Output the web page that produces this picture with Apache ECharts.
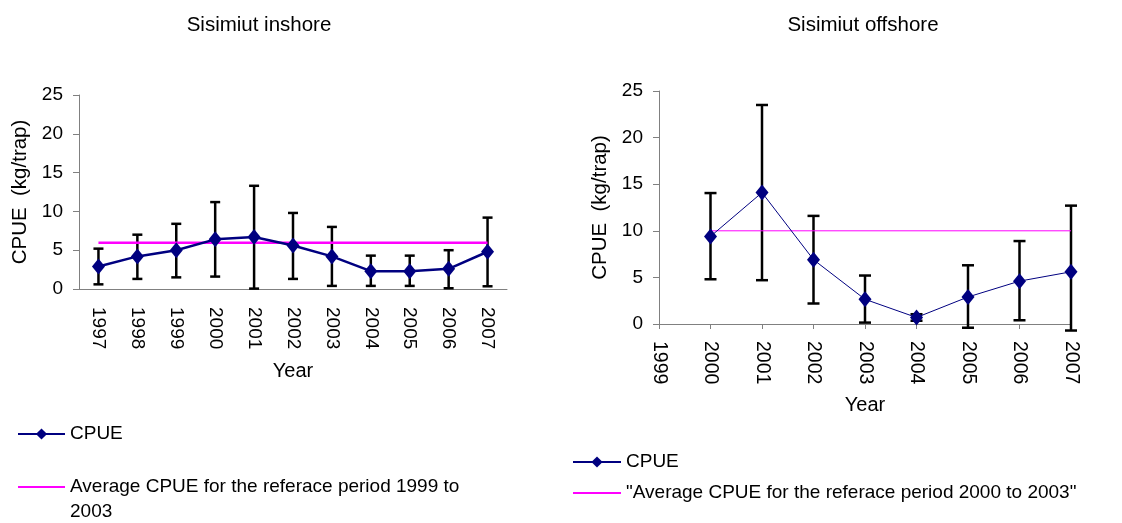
<!DOCTYPE html>
<html>
<head>
<meta charset="utf-8">
<script src="https://cdn.jsdelivr.net/npm/echarts@6/dist/echarts.min.js"></script>
<style>
  html, body { margin: 0; padding: 0; background: #fff; }
  #wrap { width: 1122px; height: 523px; position: relative; }
  .pane { position: absolute; top: 0; width: 561px; height: 523px; }
</style>
</head>
<body>
<div id="wrap">
  <div id="inshore_chart" class="pane" style="left:0"></div>
  <div id="offshore_chart" class="pane" style="left:561px"></div>
</div>
<script>
// Sisimiut inshore
var inYears = ['1997', '1998', '1999', '2000', '2001', '2002', '2003', '2004', '2005', '2006', '2007'];
var inCpue = [2.9, 4.2, 5.0, 6.4, 6.7, 5.6, 4.2, 2.3, 2.3, 2.6, 4.8];
var inLow  = [0.6, 1.3, 1.5, 1.6, 0.05, 1.3, 0.4, 0.4, 0.4, 0.1, 0.35];
var inHigh = [5.2, 7.0, 8.4, 11.2, 13.3, 9.8, 8.0, 4.3, 4.3, 5.0, 9.2];
var inAvg = 5.95;

// Sisimiut offshore
var offYears = [2000, 2001, 2002, 2003, 2004, 2005, 2006, 2007];
var offCpue = [9.4, 14.1, 6.9, 2.65, 0.7, 2.9, 4.6, 5.6];
var offLow  = [4.8, 4.7, 2.2, 0.15, 0.35, -0.4, 0.4, -0.7];
var offHigh = [14.05, 23.5, 11.6, 5.2, 1.05, 6.3, 8.9, 12.7];
var offAvg = 10;

var yTicks = { min: 0, max: 25, interval: 5 };

var FONT = 'Liberation Sans, Arial, sans-serif';
var NAVY = '#000080';
var MAGENTA = '#ff00ff';

function errorBars(xs, lows, highs, capHalf, width) {
    return {
        type: 'custom',
        silent: true,
        clip: false,
        z: 1,
        data: xs.map(function (x, i) { return [x, lows[i], highs[i]]; }),
        encode: { x: 0, y: [1, 2] },
        renderItem: function (params, api) {
            var lo = api.coord([api.value(0), api.value(1)]);
            var hi = api.coord([api.value(0), api.value(2)]);
            var st = { stroke: '#000', lineWidth: width };
            return {
                type: 'group',
                children: [
                    { type: 'line', shape: { x1: hi[0], y1: hi[1], x2: lo[0], y2: lo[1] }, style: st },
                    { type: 'line', shape: { x1: hi[0] - capHalf, y1: hi[1], x2: hi[0] + capHalf, y2: hi[1] }, style: st },
                    { type: 'line', shape: { x1: lo[0] - capHalf, y1: lo[1], x2: lo[0] + capHalf, y2: lo[1] }, style: st }
                ]
            };
        }
    };
}

function yAxisOpt() {
    return {
        type: 'value',
        min: yTicks.min, max: yTicks.max, interval: yTicks.interval,
        name: 'CPUE  (kg/trap)',
        nameLocation: 'middle',
        nameGap: 48,
        nameTextStyle: { color: '#000', fontSize: 20.5, fontFamily: FONT },
        axisLine: { show: true, lineStyle: { color: '#808080', width: 1 } },
        axisTick: { show: true, length: 6, lineStyle: { color: '#808080' } },
        axisLabel: { color: '#000', fontSize: 19, fontFamily: FONT, margin: 16 },
        splitLine: { show: false }
    };
}

// one legend box per item so each can sit where the original has it
function legendOpt(name, left, top, width, formatter, hideSymbol) {
    var lg = {
        left: left, top: top, padding: 0,
        itemWidth: width, itemHeight: 14,
        data: [name],
        textStyle: { color: '#000', fontSize: 19, fontFamily: FONT, lineHeight: 25 }
    };
    if (formatter) lg.formatter = formatter;
    if (hideSymbol) lg.itemStyle = { opacity: 0 };
    return lg;
}

var inshoreChart = echarts.init(document.getElementById('inshore_chart'));

var inName = 'Average CPUE for the referace period 1999 to 2003';
inshoreChart.setOption({
    animation: false,
    title: {
        text: 'Sisimiut inshore',
        left: 254, top: 10, textAlign: 'center',
        textStyle: { color: '#000', fontSize: 20.5, fontWeight: 'normal', fontFamily: FONT }
    },
    legend: [
        legendOpt('CPUE', 17, 421.5, 47),
        legendOpt(inName, 17, 449.5, 47, function () {
            // empty first line keeps the icon level with the first text line
            return '\nAverage CPUE for the referace period 1999 to\n2003';
        }, true)
    ],
    grid: { left: 79, right: 54, top: 95, bottom: 234 },
    xAxis: {
        type: 'category',
        data: inYears,
        name: 'Year',
        nameLocation: 'middle',
        nameGap: 72,
        nameTextStyle: { color: '#000', fontSize: 20, fontFamily: FONT },
        axisLine: { lineStyle: { color: '#808080' } },
        axisTick: { length: 5, lineStyle: { color: '#808080' } },
        axisLabel: { rotate: -90, color: '#000', fontSize: 19, fontFamily: FONT, margin: 18, interval: 0 }
    },
    yAxis: yAxisOpt(),
    series: [
        errorBars(inYears.map(function (y, i) { return i; }), inLow, inHigh, 5, 2.5),
        {
            name: inName,
            type: 'line',
            z: 2,
            symbol: 'none',
            data: inYears.map(function () { return inAvg; }),
            lineStyle: { color: MAGENTA, width: 2.5 },
            itemStyle: { color: MAGENTA }
        },
        {
            name: 'CPUE',
            type: 'line',
            z: 3,
            data: inCpue,
            symbol: 'diamond',
            symbolSize: [13, 16],
            lineStyle: { color: NAVY, width: 2.5 },
            itemStyle: { color: NAVY }
        }
    ]
});

var offshoreChart = echarts.init(document.getElementById('offshore_chart'));

var offName = '"Average CPUE for the referace period 2000 to 2003"';
offshoreChart.setOption({
    animation: false,
    title: {
        text: 'Sisimiut offshore',
        left: 297, top: 10, textAlign: 'center',
        textStyle: { color: '#000', fontSize: 20.5, fontWeight: 'normal', fontFamily: FONT }
    },
    legend: [
        legendOpt('CPUE', 11, 449.5, 48),
        legendOpt(offName, 11, 480.5, 48, null, true)
    ],
    grid: { left: 98, right: 51, top: 91, bottom: 199 },
    xAxis: {
        type: 'value',
        min: 1999, max: 2007, interval: 1,
        name: 'Year',
        nameLocation: 'middle',
        nameGap: 71,
        nameTextStyle: { color: '#000', fontSize: 20, fontFamily: FONT },
        axisLine: { lineStyle: { color: '#808080' } },
        axisTick: { length: 5, lineStyle: { color: '#808080' } },
        axisLabel: {
            rotate: -90, color: '#000', fontSize: 19.5, fontFamily: FONT, margin: 17,
            formatter: function (v) { return String(v); }
        },
        splitLine: { show: false }
    },
    yAxis: yAxisOpt(),
    series: [
        errorBars(offYears, offLow, offHigh, 6, 2.5),
        {
            name: offName,
            type: 'line',
            z: 2,
            symbol: 'none',
            data: [[offYears[0], offAvg], [offYears[offYears.length - 1], offAvg]],
            lineStyle: { color: MAGENTA, width: 1 },
            itemStyle: { color: MAGENTA }
        },
        {
            name: 'CPUE',
            type: 'line',
            z: 3,
            data: offYears.map(function (y, i) { return [y, offCpue[i]]; }),
            symbol: 'diamond',
            symbolSize: [13, 16],
            lineStyle: { color: NAVY, width: 1 },
            itemStyle: { color: NAVY }
        }
    ]
});

window.addEventListener('resize', function () {
    inshoreChart.resize();
    offshoreChart.resize();
});
</script>
</body>
</html>
